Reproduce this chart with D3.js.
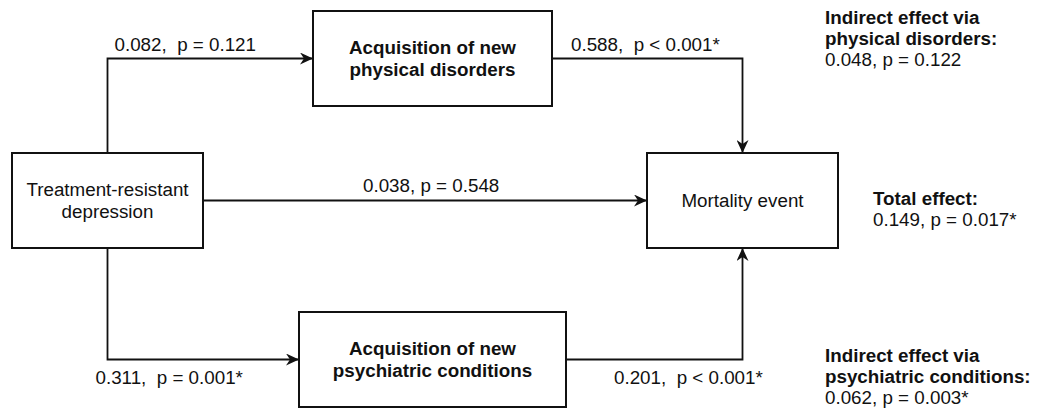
<!DOCTYPE html>
<html>
<head>
<meta charset="utf-8">
<script src="https://cdnjs.cloudflare.com/ajax/libs/d3/7.8.5/d3.min.js"></script>
<style>
  html, body { margin: 0; padding: 0; background: #fff; }
  svg { display: block; }
  text { font-family: "Liberation Sans", Arial, Helvetica, sans-serif; fill: #111; white-space: pre; }
</style>
</head>
<body>
<script>
// path model data
var nodeNames = ["Treatment-resistant\ndepression", "Acquisition of new\nphysical disorders", "Mortality event", "Acquisition of new\npsychiatric conditions"];
var pathFrom = [0, 1, 0, 0, 3];
var pathTo = [1, 2, 2, 3, 2];
var pathCoef = ["0.082", "0.588", "0.038", "0.311", "0.201"];
var pathP = ["p = 0.121", "p < 0.001*", "p = 0.548", "p = 0.001*", "p < 0.001*"];
var effectTitles = ["Indirect effect via\nphysical disorders:", "Total effect:", "Indirect effect via\npsychiatric conditions:"];
var effectValues = ["0.048, p = 0.122", "0.149, p = 0.017*", "0.062, p = 0.003*"];

var width = 1042, height = 414;

// layout: grid column / row of each node, routing of each path
var nodeCol = [0, 1, 2, 1];
var nodeRow = [1, 0, 1, 2];
var nodeW = [191, 239, 191, 267];
var nodeH = 95;
var nodeBold = [false, true, false, true];
var pathRoute = ["vh", "hv", "h", "vh", "hv"];
var labelDx = [7, 19, 160, -12, 48];
var labelDy = [-8, -8, -9, 24, 24];

var x = d3.scaleOrdinal().domain([0, 1, 2]).range([107.5, 432.5, 742.5]);
var y = d3.scaleOrdinal().domain([0, 1, 2]).range([58.5, 200.5, 359.5]);

var svg = d3.select("body").append("svg")
  .attr("width", width)
  .attr("height", height);

svg.append("defs").append("marker")
  .attr("id", "arrow")
  .attr("markerUnits", "userSpaceOnUse")
  .attr("markerWidth", 14)
  .attr("markerHeight", 12)
  .attr("refX", 13)
  .attr("refY", 6)
  .attr("orient", "auto")
  .append("path")
  .attr("d", "M0,0 L13,6 L0,12 L4,6 Z")
  .attr("fill", "#111");

var nodes = nodeNames.map(function(name, i){
  var cx = x(nodeCol[i]), cy = y(nodeRow[i]);
  return {name: name, cx: cx, cy: cy, x0: cx - nodeW[i] / 2, x1: cx + nodeW[i] / 2,
          y0: cy - nodeH / 2, y1: cy + nodeH / 2, bold: nodeBold[i]};
});

function connector(a, b, route){
  if (route == "h") return [[a.x1, a.cy], [b.x0, b.cy]];
  if (route == "vh") {
    var ys = b.cy < a.cy ? a.y0 : a.y1;
    return [[a.cx, ys], [a.cx, b.cy], [b.x0, b.cy]];
  }
  var ye = b.cy > a.cy ? b.y0 : b.y1;
  return [[a.x1, a.cy], [b.cx, a.cy], [b.cx, ye]];
}

var line = d3.line();

var links = pathFrom.map(function(f, i){
  var pts = connector(nodes[f], nodes[pathTo[i]], pathRoute[i]);
  // label sits on the horizontal segment
  var hs = pathRoute[i] == "vh" ? pts[1] : pts[0];
  return {pts: pts, lx: hs[0] + labelDx[i], ly: hs[1] + labelDy[i],
          label: pathCoef[i] + (pathRoute[i] == "h" ? ", " : ",  ") + pathP[i]};
});

svg.selectAll("path.link")
  .data(links)
  .enter().append("path")
  .attr("class", "link")
  .attr("d", function(d){ return line(d.pts); })
  .attr("fill", "none")
  .attr("stroke", "#111")
  .attr("stroke-width", 1.8)
  .attr("marker-end", "url(#arrow)");

svg.selectAll("rect.node")
  .data(nodes)
  .enter().append("rect")
  .attr("class", "node")
  .attr("x", function(d){ return d.x0; })
  .attr("y", function(d){ return d.y0; })
  .attr("width", function(d){ return d.x1 - d.x0; })
  .attr("height", function(d){ return d.y1 - d.y0; })
  .attr("fill", "#fff")
  .attr("stroke", "#111")
  .attr("stroke-width", 2);

var fs = 18.8, lh = 22;

svg.selectAll("text.node")
  .data(nodes)
  .enter().append("text")
  .attr("class", "node")
  .attr("text-anchor", "middle")
  .attr("font-size", fs)
  .attr("font-weight", function(d){ return d.bold ? "bold" : "normal"; })
  .each(function(d){
    var lines = d.name.split("\n");
    var t = d3.select(this);
    lines.forEach(function(l, k){
      t.append("tspan")
        .attr("x", d.cx)
        .attr("y", d.cy + 6.8 + (k - (lines.length - 1) / 2) * lh)
        .text(l);
    });
  });

svg.selectAll("text.edge")
  .data(links)
  .enter().append("text")
  .attr("class", "edge")
  .attr("font-size", fs)
  .attr("x", function(d){ return d.lx; })
  .attr("y", function(d){ return d.ly; })
  .text(function(d){ return d.label; });

// effect summaries on the right
var effX = [825, 873, 825];
var effY = [24, 205, 362];
svg.selectAll("text.effect")
  .data(effectTitles)
  .enter().append("text")
  .attr("class", "effect")
  .attr("font-size", fs)
  .each(function(d, i){
    var t = d3.select(this);
    var lines = d.split("\n");
    lines.forEach(function(l, k){
      t.append("tspan").attr("x", effX[i]).attr("y", effY[i] + k * 21)
        .attr("font-weight", "bold").text(l);
    });
    t.append("tspan").attr("x", effX[i]).attr("y", effY[i] + lines.length * 21)
      .text(effectValues[i]);
  });
</script>
</body>
</html>
